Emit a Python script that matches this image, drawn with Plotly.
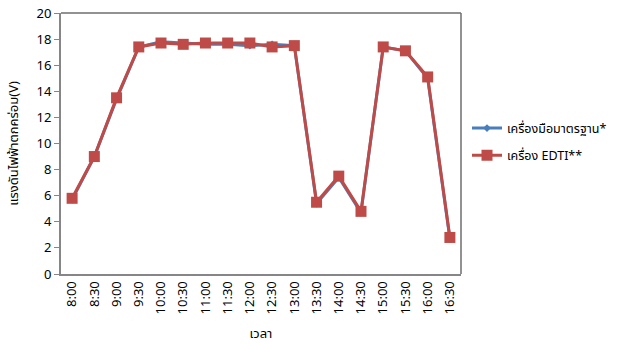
import plotly.graph_objects as go

times = ["8:00", "8:30", "9:00", "9:30", "10:00", "10:30", "11:00", "11:30", "12:00",
         "12:30", "13:00", "13:30", "14:00", "14:30", "15:00", "15:30", "16:00", "16:30"]
standard = [5.7, 9.0, 13.4, 17.4, 17.8, 17.7, 17.6, 17.6, 17.5, 17.6, 17.5, 5.4, 7.4, 4.7, 17.4, 17.1, 15.0, 2.7]
edti = [5.8, 9.0, 13.5, 17.4, 17.7, 17.6, 17.7, 17.7, 17.7, 17.4, 17.5, 5.5, 7.5, 4.8, 17.4, 17.1, 15.1, 2.8]

font_family = "Tahoma, 'Noto Sans Thai', 'DejaVu Sans', sans-serif"

fig = go.Figure()
fig.add_trace(go.Scatter(
    x=times, y=standard, mode="lines+markers", name="เครื่องมือมาตรฐาน*",
    legendgroup="std",
    line=dict(color="#4a7ebb", width=3),
    marker=dict(symbol="diamond", size=6, color="#4a7ebb"),
))
fig.add_trace(go.Scatter(
    x=times, y=edti, mode="lines+markers", name="เครื่อง EDTI**",
    legendgroup="edti",
    line=dict(color="#be4b48", width=3),
    marker=dict(symbol="square", size=11, color="#be4b48"),
))

fig.update_layout(
    width=624, height=344,
    margin=dict(l=61, r=161, t=13, b=70),
    paper_bgcolor="white", plot_bgcolor="white",
    font=dict(family=font_family, size=13, color="#000000"),
    showlegend=True,
    legend=dict(x=1.015, y=0.615, xanchor="left", yanchor="top",
                font=dict(size=12.5), bgcolor="rgba(0,0,0,0)",
                tracegroupgap=8, itemwidth=30),
    xaxis=dict(
        type="category", tickangle=-90, showgrid=False, automargin=False,
        showline=True, linecolor="#868686", linewidth=2, mirror=False,
        ticks="", tickfont=dict(size=13),
        title=dict(text="เวลา", font=dict(size=13), standoff=32),
        range=[-0.5, 17.5],
    ),
    yaxis=dict(
        range=[0, 20], dtick=2, showgrid=False, automargin=False,
        showline=True, linecolor="#868686", linewidth=2,
        ticks="outside", ticklen=5, tickcolor="#868686",
        tickfont=dict(size=13),
        title=dict(text="แรงดันไฟฟ้าตกคร่อม(V)", font=dict(size=13)),
    ),
    shapes=[
        dict(type="line", xref="paper", yref="paper", x0=0, x1=1, y0=1, y1=1,
             line=dict(color="#6e6e6e", width=1.5)),
        dict(type="line", xref="paper", yref="paper", x0=1, x1=1, y0=0, y1=1,
             line=dict(color="#6e6e6e", width=1.5)),
    ],
)

fig.write_html("out.html")
